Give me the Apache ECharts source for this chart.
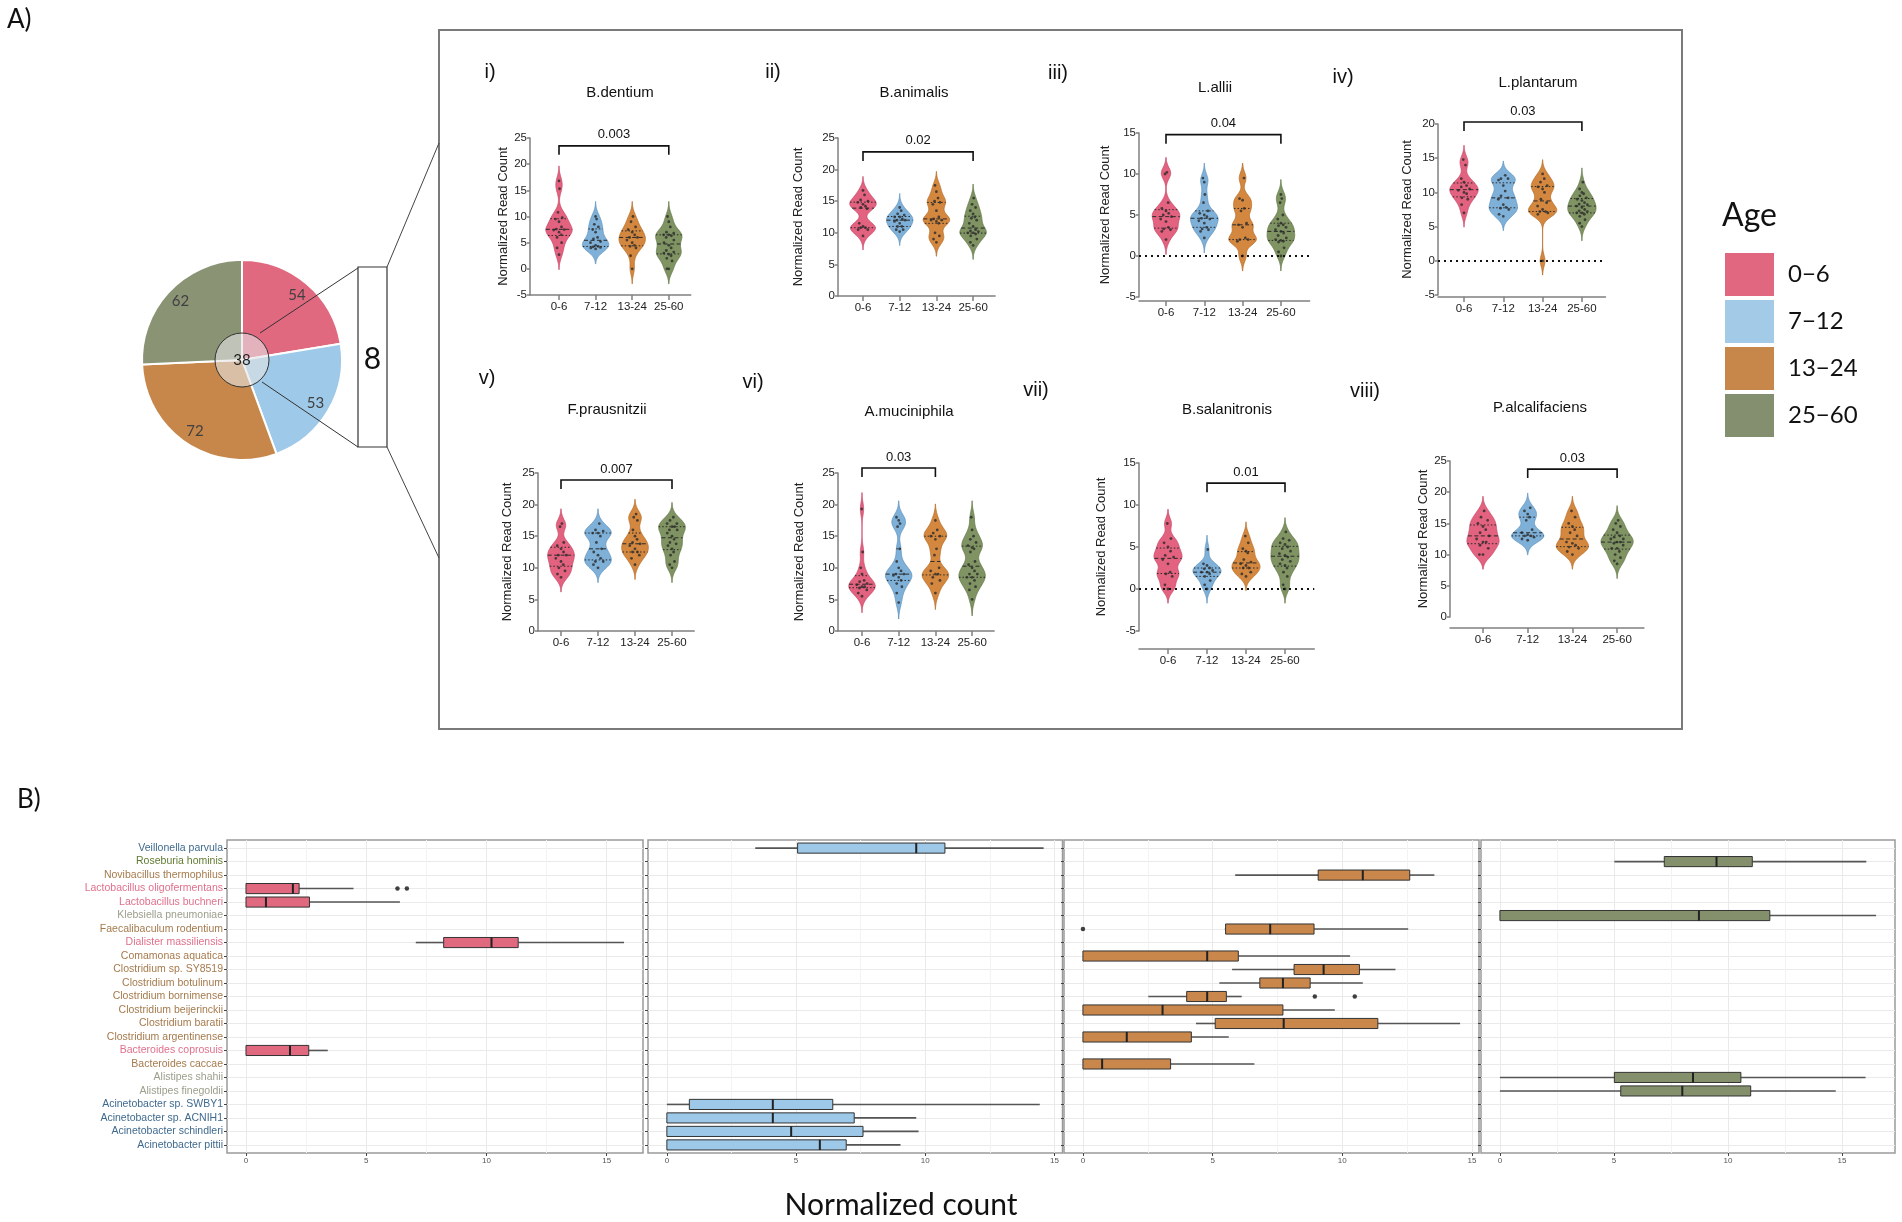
<!DOCTYPE html>
<html>
<head>
<meta charset="utf-8">
<title>Age-associated taxa</title>
<script src="https://cdn.jsdelivr.net/npm/echarts@6.0.0/dist/echarts.min.js"></script>
<style>
html,body{margin:0;padding:0;background:#ffffff;}
#chart{width:1902px;height:1222px;}
</style>
</head>
<body>
<div id="chart"></div>
<script>
// ================= DATA =================
const ageGroups = ['0-6', '7-12', '13-24', '25-60'];
const legendLabels = ['0−6', '7−12', '13−24', '25−60'];
const pieCounts = [54, 53, 72, 62];
const sharedCount = 38;
const highlightedCount = 8;

const violinSpecies = ['B.dentium', 'B.animalis', 'L.allii', 'L.plantarum',
  'F.prausnitzii', 'A.muciniphila', 'B.salanitronis', 'P.alcalifaciens'];
const panelNumerals = ['i)', 'ii)', 'iii)', 'iv)', 'v)', 'vi)', 'vii)', 'viii)'];
const pValues = ['0.003', '0.02', '0.04', '0.03', '0.007', '0.03', '0.01', '0.03'];
const comparedGroups = [[0, 3], [0, 3], [0, 3], [0, 3], [0, 3], [0, 2], [1, 3], [1, 3]];
const yAxisMin = [-5, 0, -5, -5, 0, 0, -5, 0];
const yAxisMax = [25, 25, 15, 20, 25, 25, 15, 25];

// normalized read counts per age group (0-6, 7-12, 13-24, 25-60)
const bDentium = [
  [16.8, 15.3, 10.8, 9.8, 9.5, 9, 8, 7.6, 7.5, 7.4, 7, 6.5, 6, 5, 4, 2.7],
  [10, 9.5, 8.5, 8, 7.5, 7, 6, 5.7, 5.2, 5, 4.5, 4.3, 4.2, 4.1, 4, 3.8],
  [10, 9, 8, 7.5, 7, 6.5, 6, 6, 5.5, 5, 4.5, 4.3, 4, 2.5, 0],
  [10, 9, 8, 7, 6.8, 6.5, 6.5, 6.3, 6, 5.5, 5, 4.5, 4, 3.5, 3.2, 3, 2.8, 2.5, 2, 1.5, 0, 0]
];
const bAnimalis = [
  [16.7, 16, 15.2, 15, 14.8, 14.5, 14.2, 14, 13.8, 11.5, 11, 10.8, 10.8, 10.5, 10.5, 9.5],
  [14, 13.5, 13, 12.8, 12.5, 12.5, 12.2, 12, 12, 11.8, 11.5, 11, 11, 10.5, 10.5, 10.2],
  [17.5, 16.5, 15.5, 15, 14.8, 14.5, 13.5, 12.5, 12.2, 12, 12, 11.8, 11.5, 10, 9.5, 9, 8.5],
  [15.5, 14.5, 14, 13.5, 13, 12.5, 12.3, 12, 11.5, 11, 10.5, 10.3, 10.2, 10, 10, 9.8, 9.5, 9, 8.5, 8]
];
const lAllii = [
  [10.2, 10, 6.5, 5.8, 5.5, 5.2, 5, 4.8, 4.5, 4.2, 3.5, 3.3, 3.2, 3, 2],
  [9.5, 9, 7.5, 6.5, 5.5, 5.2, 5, 4.8, 4.6, 4.5, 4.3, 4, 3.5, 3.3, 3.2, 3, 2.2],
  [9.5, 7, 6.8, 5.8, 5.5, 4, 3.8, 3.5, 2.2, 2, 2, 1.8, 0],
  [7.5, 7, 6.5, 5, 4.5, 4, 3.8, 3.7, 3.5, 3.2, 3, 2.8, 2.5, 2.2, 2, 1.9, 1.8, 1.7, 1, 0.5, 0]
];
const lPlantarum = [
  [14.8, 14, 12, 11.5, 11, 10.8, 10.5, 10.3, 10, 9.8, 9.2, 9, 8.2, 7],
  [12.5, 12, 12, 11.8, 11, 10.2, 9.5, 9.2, 9, 8.2, 7.8, 7.7, 7.5, 6.8, 6.5],
  [12.7, 12, 11.5, 11, 10.8, 10.5, 10, 9, 8.5, 8, 7.5, 7.2, 7.2, 7, 6.8, 0],
  [11.5, 10.5, 10, 9.8, 9.5, 9.2, 9, 8.8, 8.5, 8.3, 8.2, 8, 7.8, 7.5, 7.3, 7.2, 7, 7, 6.8, 6.5, 6, 5.5, 5]
];
const fPrausnitzii = [
  [17, 16.5, 14, 13.5, 13, 12.5, 12, 12, 11.5, 11, 10.5, 10, 9.5, 9, 8.5],
  [17, 16, 15.8, 15.5, 15.5, 15, 14, 13, 12.5, 12, 11.5, 11, 11, 10.5, 10],
  [18.5, 18, 17.5, 16, 15, 14.5, 14, 13.8, 13.5, 13, 12.5, 12.5, 12, 11.5, 10.5],
  [18, 17.5, 17, 17, 16.5, 16.5, 16, 16, 15.5, 15, 14.5, 14, 13.8, 13.5, 13, 12.5, 12, 11, 10.5, 10]
];
const aMuciniphila = [
  [19.3, 12.5, 10, 9, 8, 7.8, 7.5, 7.3, 7, 7, 6.8, 6.5, 6, 5.5],
  [18, 17.5, 17, 16.5, 13, 11, 10, 9.5, 9, 9, 8.8, 8.5, 8, 7.5, 7, 6, 4.5],
  [17.5, 16, 15.5, 15, 15, 14.5, 13, 12, 10, 9.5, 9, 9, 8.5, 8, 7.5, 6],
  [18, 16, 15, 14.5, 14, 13.5, 13.2, 13, 12.5, 11, 10.5, 10, 9.5, 9, 9, 8.5, 8.5, 8, 7.5, 7, 6.5, 5]
];
const bSalanitronis = [
  [7.8, 6, 5.5, 5, 4.5, 4, 3.8, 3.5, 3, 2, 1.8, 1.5, 0.5, 0],
  [4.7, 3, 2.8, 2.5, 2.4, 2.2, 2, 2, 1.8, 1.5, 1, 0.5, 0],
  [6.3, 5.5, 4.8, 4.5, 4.3, 3.5, 3.2, 3, 2.8, 2.5, 2.5, 2, 1.8, 1.5],
  [6.8, 6, 5.8, 5.5, 5.3, 5, 4.8, 4.5, 4.2, 4, 3.8, 3.5, 3.3, 3, 2.8, 2.5, 2, 1.5, 0.5, 0]
];
const pAlcalifaciens = [
  [17, 16, 15.5, 15, 14.5, 14, 13.5, 13, 12.5, 12, 12, 11.5, 11, 10, 10],
  [17.5, 17, 16.5, 16, 15.5, 14, 13.5, 13.2, 13, 13, 12.8, 12.5, 12.3],
  [17, 16, 15, 14.5, 14, 13.5, 13, 12, 11.8, 11.5, 11.2, 11, 10.5, 10],
  [15.5, 15, 14.5, 14, 13.5, 13, 12.8, 12.5, 12.5, 12, 12, 11.8, 11.5, 11, 11, 10.5, 10, 9.5, 9, 8.5]
];
const violinData = [bDentium, bAnimalis, lAllii, lPlantarum, fPrausnitzii, aMuciniphila, bSalanitronis, pAlcalifaciens];

// Panel B: species (top to bottom) and label colour class
const boxSpecies = ['Veillonella parvula', 'Roseburia hominis', 'Novibacillus thermophilus',
  'Lactobacillus oligofermentans', 'Lactobacillus buchneri', 'Klebsiella pneumoniae',
  'Faecalibaculum rodentium', 'Dialister massiliensis', 'Comamonas aquatica',
  'Clostridium sp. SY8519', 'Clostridium botulinum', 'Clostridium bornimense',
  'Clostridium beijerinckii', 'Clostridium baratii', 'Clostridium argentinense',
  'Bacteroides coprosuis', 'Bacteroides caccae', 'Alistipes shahii', 'Alistipes finegoldii',
  'Acinetobacter sp. SWBY1', 'Acinetobacter sp. ACNIH1', 'Acinetobacter schindleri', 'Acinetobacter pittii'];
const boxSpeciesClass = ['blue', 'olive', 'brown', 'pink', 'pink', 'grey', 'brown', 'pink', 'brown',
  'brown', 'brown', 'brown', 'brown', 'brown', 'brown', 'pink', 'brown', 'grey', 'grey',
  'blue', 'blue', 'blue', 'blue'];
const xTickValues = [0, 5, 10, 15];
const xMinorValues = [2.5, 7.5, 12.5];

// [species, lower whisker, Q1, median, Q3, upper whisker]
const boxStats0to6 = [
  ['Lactobacillus oligofermentans', 0, 0, 1.95, 2.21, 4.47],
  ['Lactobacillus buchneri', 0, 0, 0.83, 2.64, 6.4],
  ['Dialister massiliensis', 7.06, 8.22, 10.21, 11.32, 15.72],
  ['Bacteroides coprosuis', 0, 0, 1.83, 2.61, 3.4]
];
const boxOutliers0to6 = [['Lactobacillus oligofermentans', 6.3], ['Lactobacillus oligofermentans', 6.69]];
const boxStats7to12 = [
  ['Veillonella parvula', 3.42, 5.06, 9.65, 10.76, 14.58],
  ['Acinetobacter sp. SWBY1', 0, 0.87, 4.1, 6.42, 14.43],
  ['Acinetobacter sp. ACNIH1', 0, 0, 4.1, 7.25, 9.65],
  ['Acinetobacter schindleri', 0, 0, 4.81, 7.59, 9.74],
  ['Acinetobacter pittii', 0, 0, 5.92, 6.94, 9.04]
];
const boxOutliers7to12 = [];
const boxStats13to24 = [
  ['Novibacillus thermophilus', 5.87, 9.07, 10.79, 12.6, 13.55],
  ['Faecalibaculum rodentium', 5.47, 5.5, 7.22, 8.91, 12.54],
  ['Comamonas aquatica', 0, 0, 4.79, 5.99, 10.3],
  ['Clostridium sp. SY8519', 5.75, 8.14, 9.28, 10.66, 12.05],
  ['Clostridium botulinum', 5.26, 6.82, 7.71, 8.76, 10.79],
  ['Clostridium bornimense', 2.52, 4.0, 4.79, 5.53, 6.12],
  ['Clostridium beijerinckii', 0, 0, 3.07, 7.71, 9.71],
  ['Clostridium baratii', 4.36, 5.1, 7.74, 11.37, 14.54],
  ['Clostridium argentinense', 0, 0, 1.69, 4.18, 5.62],
  ['Bacteroides caccae', 0, 0, 0.74, 3.38, 6.61]
];
const boxOutliers13to24 = [['Faecalibaculum rodentium', 0], ['Clostridium bornimense', 8.94], ['Clostridium bornimense', 10.48]];
const boxStats25to60 = [
  ['Roseburia hominis', 5.02, 7.21, 9.5, 11.07, 16.07],
  ['Klebsiella pneumoniae', 0, 0, 8.73, 11.84, 16.5],
  ['Alistipes shahii', 0, 5.02, 8.47, 10.57, 16.04],
  ['Alistipes finegoldii', 0, 5.3, 8.0, 11.0, 14.73]
];
const boxOutliers25to60 = [];

// ================= STYLE / LAYOUT =================
const FONT = "'Liberation Sans', Arial, sans-serif";
const FONT2 = "Lato, 'Open Sans', sans-serif";
const pieColors = ['#E0687F', '#9FC9E8', '#C8874A', '#8A9475'];
const legendColors = ['#E0677F', '#A3CAE6', '#C8874A', '#848F70'];
const violinFill = ['#E2627F', '#7EB0D8', '#D4883F', '#7F9462'];
const violinStroke = ['#C94A6A', '#5F94C0', '#B86F2A', '#667A4A'];
const boxFill = ['#E0687F', '#9DC8E8', '#C9874B', '#848F6C'];
const labelColor = {pink: '#E0708C', blue: '#3F6A8E', brown: '#A57A4C', olive: '#5F7A30', grey: '#9AA08C'};

const violinLayout = [
  {axisX: 530, c0: 559, sp: 36.6, top: 138, bottom: 295, xMax: 3.6, nameGap: 18, title: [620, 93], num: [490, 72], bracket: 23.5, bw: 1.1, xOffset: 0},
  {axisX: 838, c0: 863, sp: 36.7, top: 138, bottom: 296, xMax: 3.6, nameGap: 33, title: [914, 93], num: [773, 72], bracket: 22.8, bw: 0.85, xOffset: 0},
  {axisX: 1139, c0: 1166, sp: 38.3, top: 133, bottom: 297, xMax: 3.75, nameGap: 27, title: [1215, 88], num: [1058, 73], bracket: 14.8, bw: 0.7, zero: true, xOffset: 4},
  {axisX: 1438, c0: 1464, sp: 39.3, top: 124, bottom: 295, xMax: 3.6, nameGap: 24, title: [1538, 83], num: [1343, 77], bracket: 20.3, bw: 0.8, zero: true, xOffset: 2},
  {axisX: 538, c0: 561, sp: 37, top: 473, bottom: 631, xMax: 3.6, nameGap: 24, title: [607, 410], num: [487, 378], bracket: 23.9, bw: 0.9, xOffset: 0},
  {axisX: 838, c0: 862, sp: 36.7, top: 473, bottom: 631, xMax: 3.6, nameGap: 32, title: [909, 412], num: [753, 382], bracket: 25.8, bw: 1.0, xOffset: 0},
  {axisX: 1139, c0: 1168, sp: 39, top: 463, bottom: 631, xMax: 3.75, nameGap: 31, title: [1227, 410], num: [1036, 390], bracket: 12.6, bw: 0.65, zero: true, xOffset: 18},
  {axisX: 1450, c0: 1483, sp: 44.7, top: 461, bottom: 617, xMax: 3.6, nameGap: 6, title: [1540, 408], num: [1365, 391], bracket: 23.7, bw: 0.9, xOffset: 11}
];
const facetLayout = [
  {left: 227, width: 416, xMin: -0.79, xMax: 16.51},
  {left: 648, width: 414.5, xMin: -0.73, xMax: 15.31},
  {left: 1064, width: 415, xMin: -0.73, xMax: 15.27},
  {left: 1481, width: 414, xMin: -0.83, xMax: 17.33}
];
const facetTop = 840, facetHeight = 313;

// ================= HELPERS =================
function kde(points, h, v) {
  let s = 0;
  for (const p of points) { const z = (v - p) / h; s += Math.exp(-0.5 * z * z); }
  return s;
}
function quantile(sorted, q) {
  const pos = (sorted.length - 1) * q, b = Math.floor(pos), r = pos - b;
  return b + 1 < sorted.length ? sorted[b] + r * (sorted[b + 1] - sorted[b]) : sorted[b];
}
function makeViolinRenderer(p) {
  const groups = violinData[p], L = violinLayout[p];
  return function (params, api) {
    const g = api.value(0);
    const pts = groups[g].slice().sort((a, b) => a - b);
    const h = L.bw;
    const lo = pts[0] - 2.6 * h, hi = pts[pts.length - 1] + 2.6 * h;
    const N = 120;
    const prof = [];
    let maxD = 0;
    for (let k = 0; k <= N; k++) {
      const v = lo + (hi - lo) * k / N;
      const d = kde(pts, h, v);
      prof.push([v, d]);
      if (d > maxD) maxD = d;
    }
    const cx = api.coord([g, 0])[0];
    const halfW = api.size([0.36, 0])[0];
    const wAt = v => kde(pts, h, v) / maxD * halfW;
    const yOf = v => api.coord([g, v])[1];
    const poly = [];
    prof.forEach(([v, d]) => poly.push([cx + d / maxD * halfW, yOf(v)]));
    for (let k = prof.length - 1; k >= 0; k--) {
      const [v, d] = prof[k];
      poly.push([cx - d / maxD * halfW, yOf(v)]);
    }
    const children = [{type: 'polygon', shape: {points: poly}, style: {fill: violinFill[g], stroke: violinStroke[g], lineWidth: 0.8}}];
    [[0.25, [1.5, 2]], [0.5, [4, 2.5]], [0.75, [1.5, 2]]].forEach(([q, dash]) => {
      const v = quantile(pts, q), w = wAt(v), y = yOf(v);
      children.push({type: 'line', shape: {x1: cx - w, y1: y, x2: cx + w, y2: y},
        style: {stroke: '#2a2a2a', lineWidth: 1, lineDash: dash}});
    });
    const pattern = [0, -0.5, 0.5, -0.25, 0.25];
    pts.forEach((v, i) => {
      const w = wAt(v);
      children.push({type: 'circle', shape: {cx: cx + pattern[i % 5] * w * 0.8, cy: yOf(v), r: 1.4},
        style: {fill: '#2b2b2b', opacity: 0.8}});
    });
    return {type: 'group', children};
  };
}
function makeBracketRenderer(p) {
  return function (params, api) {
    const g1 = api.value(0), g2 = api.value(1), lvl = api.value(2);
    const a = api.coord([g1, lvl]), b = api.coord([g2, lvl]);
    return {type: 'group', children: [
      {type: 'polyline', shape: {points: [[a[0], a[1] + 9], [a[0], a[1]], [b[0], b[1]], [b[0], b[1] + 9]]},
        style: {stroke: '#111', lineWidth: 1.6, fill: null}},
      {type: 'text', style: {text: pValues[p], x: (a[0] + b[0]) / 2, y: a[1] - 11, align: 'center', verticalAlign: 'middle',
        textAlign: 'center', textVerticalAlign: 'middle', font: '13px ' + FONT, fill: '#111'}}
    ]};
  };
}
function makeBoxRenderer(color) {
  return function (params, api) {
    const row = api.value(0);
    const vals = [1, 2, 3, 4, 5].map(i => api.value(i));
    const X = vals.map(v => api.coord([v, row])[0]);
    const y = api.coord([0, row])[1];
    const bh = Math.abs(api.size([0, 0.75])[1]);
    return {type: 'group', children: [
      {type: 'line', shape: {x1: X[0], y1: y, x2: X[1], y2: y}, style: {stroke: '#555', lineWidth: 1.6}},
      {type: 'line', shape: {x1: X[3], y1: y, x2: X[4], y2: y}, style: {stroke: '#555', lineWidth: 1.6}},
      {type: 'rect', shape: {x: X[1], y: y - bh / 2, width: X[3] - X[1], height: bh}, style: {fill: color, stroke: '#333', lineWidth: 1}},
      {type: 'line', shape: {x1: X[2], y1: y - bh / 2, x2: X[2], y2: y + bh / 2}, style: {stroke: '#222', lineWidth: 2}}
    ]};
  };
}

// ================= OPTION =================
const grids = [], xAxes = [], yAxes = [], series = [], graphics = [];
const axisGrey = '#808080';

violinData.forEach((groups, p) => {
  const L = violinLayout[p];
  const xMin = (L.axisX - L.c0) / L.sp;
  grids.push({left: L.axisX, top: L.top, width: (L.xMax - xMin) * L.sp, height: L.bottom - L.top});
  xAxes.push({gridIndex: p, type: 'value', min: xMin, max: L.xMax, offset: L.xOffset,
    axisLine: {show: true, onZero: false, lineStyle: {color: axisGrey, width: 1.5}},
    axisTick: {show: true, customValues: [0, 1, 2, 3], length: 5, lineStyle: {color: axisGrey, width: 1.5}},
    axisLabel: {customValues: [0, 1, 2, 3], formatter: v => ageGroups[Math.round(v)], fontSize: 11.5, color: '#222', margin: 6, fontFamily: FONT},
    splitLine: {show: false}});
  yAxes.push({gridIndex: p, type: 'value', min: yAxisMin[p], max: yAxisMax[p], interval: 5,
    name: 'Normalized Read Count', nameLocation: 'middle', nameGap: L.nameGap,
    nameTextStyle: {fontSize: 13, color: '#222', fontFamily: FONT},
    axisLine: {show: true, onZero: false, lineStyle: {color: axisGrey, width: 1.5}},
    axisTick: {show: true, length: 3, lineStyle: {color: axisGrey, width: 1.5}},
    axisLabel: {fontSize: 11.5, color: '#222', margin: 3, fontFamily: FONT},
    splitLine: {show: false}});
  const s = {type: 'custom', name: violinSpecies[p], xAxisIndex: p, yAxisIndex: p,
    data: groups.map((_, g) => [g, 0]), renderItem: makeViolinRenderer(p), clip: false, silent: true, z: 3};
  if (L.zero) {
    s.markLine = {silent: true, symbol: 'none', label: {show: false}, animation: false,
      lineStyle: {type: [2, 4], color: '#111', width: 1.8}, data: [{yAxis: 0}]};
  }
  series.push(s);
  series.push({type: 'custom', xAxisIndex: p, yAxisIndex: p, clip: false, silent: true, z: 4,
    encode: {x: [0, 1], y: 2},
    data: [[comparedGroups[p][0], comparedGroups[p][1], L.bracket]], renderItem: makeBracketRenderer(p)});
  graphics.push({type: 'text', x: L.title[0], y: L.title[1], style: {text: violinSpecies[p], font: '15px ' + FONT, fill: '#111',
    align: 'center', verticalAlign: 'middle', textAlign: 'center', textVerticalAlign: 'middle'}});
  graphics.push({type: 'text', x: L.num[0], y: L.num[1], style: {text: panelNumerals[p], font: '20px ' + FONT, fill: '#111',
    align: 'center', verticalAlign: 'middle', textAlign: 'center', textVerticalAlign: 'middle'}});
});

const facetStats = [boxStats0to6, boxStats7to12, boxStats13to24, boxStats25to60];
const facetOutliers = [boxOutliers0to6, boxOutliers7to12, boxOutliers13to24, boxOutliers25to60];
const rowIdx = boxSpecies.map((_, i) => i);
facetStats.forEach((stats, f) => {
  const F = facetLayout[f];
  const gi = 8 + f;
  grids.push({left: F.left, top: facetTop, width: F.width, height: facetHeight, show: true,
    backgroundColor: '#fff', borderColor: '#9a9a9a', borderWidth: 1.5});
  xAxes.push({gridIndex: gi, type: 'value', min: F.xMin, max: F.xMax,
    axisLine: {show: false, onZero: false},
    axisTick: {show: true, customValues: xTickValues, length: 3, lineStyle: {color: '#444'}},
    axisLabel: {customValues: xTickValues, fontSize: 8, color: '#555', margin: 4, fontFamily: FONT},
    splitLine: {show: true, lineStyle: {color: '#EAEAEA', width: 1}}});
  yAxes.push({gridIndex: gi, type: 'value', inverse: true, min: -0.6, max: boxSpecies.length - 1 + 0.6,
    axisLine: {show: false, onZero: false},
    axisTick: {show: true, customValues: rowIdx, length: 3, lineStyle: {color: '#444'}},
    axisLabel: {show: f === 0, customValues: rowIdx, fontSize: 10.5, margin: 4, fontFamily: FONT,
      formatter: v => boxSpecies[Math.round(v)],
      color: (v, i) => labelColor[boxSpeciesClass[Math.round(typeof v === 'number' ? v : i)]] || '#555'},
    splitLine: {show: true, lineStyle: {color: '#EAEAEA', width: 1}}});
  series.push({type: 'custom', xAxisIndex: gi, yAxisIndex: gi, silent: true, z: 3,
    encode: {x: [1, 2, 3, 4, 5], y: 0},
    data: stats.map(s => [boxSpecies.indexOf(s[0]), s[1], s[2], s[3], s[4], s[5]]),
    renderItem: makeBoxRenderer(boxFill[f])});
  if (facetOutliers[f].length) {
    series.push({type: 'scatter', xAxisIndex: gi, yAxisIndex: gi, silent: true, z: 4,
      symbolSize: 4.5, itemStyle: {color: '#111'},
      data: facetOutliers[f].map(o => [o[1], boxSpecies.indexOf(o[0])])});
  }
});
// minor vertical grid lines of the facets (hidden axes, grid lines only)
facetLayout.forEach((F, f) => {
  xAxes.push({gridIndex: 8 + f, type: 'value', min: F.xMin, max: F.xMax,
    axisLine: {show: false, onZero: false}, axisTick: {show: false, customValues: xMinorValues},
    axisLabel: {show: false, customValues: xMinorValues},
    splitLine: {show: true, lineStyle: {color: '#F3F3F3', width: 1}}});
});

// Pie (panel A overview)
series.push({type: 'pie', center: [242, 360], radius: [0, 100], startAngle: 90, silent: true, z: 2,
  data: legendLabels.map((n, i) => ({name: n, value: pieCounts[i], itemStyle: {color: pieColors[i]}})),
  label: {show: false}, labelLine: {show: false}, itemStyle: {borderColor: '#fff', borderWidth: 2}});
series.push({type: 'pie', center: [242, 360], radius: [64, 100], startAngle: 90, silent: true, z: 3,
  data: legendLabels.map((n, i) => ({name: n, value: pieCounts[i], itemStyle: {color: 'rgba(0,0,0,0)'}})),
  label: {show: true, position: 'inside', formatter: '{c}', fontSize: 15, color: '#404040', fontFamily: FONT2},
  labelLine: {show: false}});
series.push({type: 'pie', center: [242, 360], radius: [0, 27], silent: true, z: 4,
  data: [{name: 'shared', value: sharedCount}],
  itemStyle: {color: 'rgba(228,228,228,0.6)', borderColor: '#333', borderWidth: 1},
  label: {show: true, position: 'center', formatter: '{c}', fontSize: 15, color: '#222', fontFamily: FONT2},
  labelLine: {show: false}});

// annotations
const tStyle = (text, font, align) => ({text, font, fill: '#111', align: align || 'left', verticalAlign: 'middle',
  textAlign: align || 'left', textVerticalAlign: 'middle'});
graphics.push({type: 'text', x: 7, y: 20, style: tStyle('A)', '26px ' + FONT2)});
graphics.push({type: 'text', x: 17, y: 800, style: tStyle('B)', '26px ' + FONT2)});
graphics.push({type: 'line', z: 100, shape: {x1: 260, y1: 333, x2: 358, y2: 268}, style: {stroke: '#333', lineWidth: 1}});
graphics.push({type: 'line', z: 100, shape: {x1: 262, y1: 382, x2: 358, y2: 447}, style: {stroke: '#333', lineWidth: 1}});
graphics.push({type: 'rect', z: 100, shape: {x: 358, y: 267, width: 29, height: 180}, style: {stroke: '#333', lineWidth: 1.2, fill: '#fff'}});
graphics.push({type: 'text', z: 101, x: 372.5, y: 359, style: tStyle(String(highlightedCount), '30px ' + FONT2, 'center')});
graphics.push({type: 'line', z: 100, shape: {x1: 387, y1: 267, x2: 439, y2: 143}, style: {stroke: '#444', lineWidth: 1}});
graphics.push({type: 'line', z: 100, shape: {x1: 387, y1: 447, x2: 439, y2: 558}, style: {stroke: '#444', lineWidth: 1}});
graphics.push({type: 'rect', z: 0, shape: {x: 439, y: 30, width: 1243, height: 699}, style: {stroke: '#7a7a7a', lineWidth: 2, fill: 'rgba(0,0,0,0)'}});
graphics.push({type: 'text', x: 1722, y: 216, style: tStyle('Age', '32px ' + FONT2)});
graphics.push({type: 'text', x: 901, y: 1205, style: tStyle('Normalized count', '30px ' + FONT2, 'center')});

const option = {
  animation: false,
  backgroundColor: '#ffffff',
  grid: grids,
  xAxis: xAxes,
  yAxis: yAxes,
  legend: {orient: 'vertical', left: 1718, top: 246, itemWidth: 51, itemHeight: 45, itemGap: 0, icon: 'rect',
    selectedMode: false, textStyle: {fontSize: 24, color: '#111', fontFamily: FONT2, padding: [0, 0, 0, 8]},
    data: legendLabels.map((n, i) => ({name: n, itemStyle: {color: legendColors[i]}}))},
  graphic: {elements: graphics},
  series
};
const chart = echarts.init(document.getElementById('chart'), null, {renderer: 'canvas', width: 1902, height: 1222});
chart.setOption(option);
</script>
</body>
</html>
